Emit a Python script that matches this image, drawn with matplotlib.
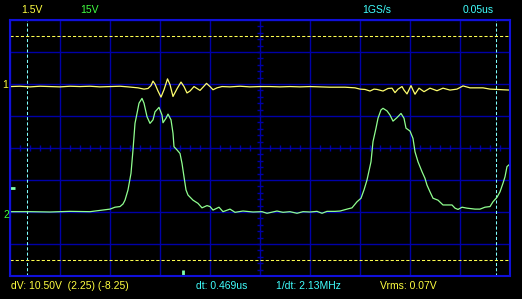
import numpy as np
import matplotlib
matplotlib.use('Agg')
import matplotlib.pyplot as plt

# time axis in ns (0.05 us / div), vertical values in screen divisions
ch1_t = [0, 10, 20, 30, 40, 50, 60, 70, 80, 90, 100, 110, 118, 128, 134, 138, 141, 143,
         145, 148, 151, 154, 157.5, 160, 163, 167, 171, 174, 177, 180, 184, 187, 190,
         193, 196.5, 200, 203, 207, 212, 220, 230, 240, 250, 260, 270, 280, 290, 300, 310,
         320, 335, 345, 350, 355, 360, 364, 367, 373, 378, 382, 385, 388, 392, 394, 397,
         401, 403, 405, 409, 414, 420, 427, 433, 440, 447, 453, 460, 467, 473, 480, 487,
         493, 500]
ch1_div = [1.92, 1.93, 1.91, 1.93, 1.92, 1.91, 1.93, 1.92, 1.93, 1.91, 1.92, 1.93, 1.91,
           1.88, 1.84, 1.86, 1.95, 2.09, 2.00, 1.78, 1.59, 1.82, 2.16, 1.98, 1.61,
           1.85, 2.06, 1.92, 1.72, 1.78, 1.92, 1.86, 1.80, 1.90, 2.02, 1.92, 1.82, 1.88,
           1.92, 1.91, 1.93, 1.91, 1.92, 1.92, 1.91, 1.92, 1.91, 1.92, 1.91, 1.90, 1.90,
           1.88, 1.84, 1.83, 1.78, 1.84, 1.83, 1.78, 1.86, 1.87, 1.73, 1.84, 1.92, 1.81,
           1.69, 1.95, 1.81, 1.68, 1.87, 1.76, 1.87, 1.79, 1.87, 1.81, 1.84, 1.94, 1.88,
           1.88, 1.88, 1.84, 1.83, 1.82, 1.81]

ch2_t = [0, 20, 40, 60, 80, 90, 100, 105, 110, 113, 115, 118, 121, 123, 125, 127, 129,
         132, 134, 137, 140, 143, 145, 149, 152, 153, 156, 158, 161, 163, 164, 167, 170,
         172, 174, 176, 178, 183, 188, 192, 197, 200, 203, 209, 213, 220, 225, 233, 243,
         252, 257, 267, 273, 280, 287, 293, 300, 307, 312, 317, 325, 330, 337, 342, 347,
         351, 354, 357, 361, 363, 366, 368, 371, 373, 377, 380, 383, 387, 391, 394, 396,
         400, 403, 405, 408, 412, 415, 417, 420, 423, 428, 433, 442, 445, 448, 452, 457,
         465, 470, 475, 480, 483, 487, 490, 493, 495, 497, 500]
ch2_div = [-1.99, -1.99, -2.00, -1.98, -1.99, -1.95, -1.91, -1.85, -1.83, -1.75, -1.63,
           -1.31, -0.79, -0.06, 0.77, 1.08, 1.40, 1.55, 1.40, 0.98, 0.77, 0.88, 1.13, 1.27,
           1.03, 0.79, 0.93, 1.06, 0.88, 0.46, 0.04, -0.06, -0.17, -0.48, -0.90, -1.31,
           -1.47, -1.63, -1.73, -1.87, -1.80, -1.83, -1.94, -1.85, -1.99, -1.91, -2.01,
           -1.97, -2.00, -1.99, -2.04, -1.97, -2.01, -1.99, -2.04, -1.99, -2.00, -1.98,
           -2.04, -1.98, -1.98, -1.97, -1.91, -1.87, -1.68, -1.57, -1.31, -1.00, -0.43,
           0.20, 0.62, 0.93, 1.19, 1.24, 1.16, 1.03, 0.84, 0.95, 1.08, 0.93, 0.62, 0.53,
           0.30, -0.12, -0.43, -0.74, -0.95, -1.16, -1.37, -1.57, -1.63, -1.78, -1.78,
           -1.88, -1.92, -1.85, -1.88, -1.91, -1.91, -1.85, -1.83, -1.68, -1.54, -1.37,
           -1.10, -0.90, -0.58, -0.50]

cursor_t = [16.5, 485.5]
cursor_v = [3.5, -3.5]

W, H = 522, 299
YEL = '#ffff40'
GRN = '#40ff40'
CYN = '#40ffff'


def fx(px):
    return px / W


def fy(py):
    return 1 - py / H


fig = plt.figure(figsize=(W / 100, H / 100), dpi=100, facecolor='black')
ax = fig.add_axes([fx(10), fy(276), 500 / W, 256 / H], facecolor='black')
ax.set_xlim(0, 500)
ax.set_ylim(-4, 4)
ax.set_xticks(np.arange(0, 501, 50))
ax.set_yticks(np.arange(-4, 5))
ax.grid(True, color='#0000a8', lw=1.0)
ax.tick_params(length=0, labelbottom=False, labelleft=False)
for s in ax.spines.values():
    s.set_color('#1010d8')
    s.set_linewidth(1.5)

# centre cross ticks
ax.plot(np.arange(0, 501, 10), np.zeros(51), ls='none', marker='|',
        ms=4.5, mew=1.0, color='#0000a8')
ax.plot(np.full(41, 250), np.arange(-4, 4.01, 0.2), ls='none', marker='_',
        ms=4.5, mew=1.0, color='#0000a8')

# cursors
for t in cursor_t:
    ax.axvline(t, color='#80ffff', lw=0.75, ls=(0, (3, 2)))
for v in cursor_v:
    ax.axhline(v, color='#ffff50', lw=0.75, ls=(0, (3, 2)))

ax.plot(ch1_t, ch1_div, color='#ffff70', lw=0.9)
ax.plot(ch2_t, ch2_div, color='#90ff90', lw=0.9)

# markers
ax.plot([0, 5], [-1.24, -1.24], color='#80ffb0', lw=2, clip_on=False,
        solid_capstyle='butt')
ax.plot([172.7, 172.7], [-3.81, -4.0], color='#80ffb0', lw=2, clip_on=False,
        solid_capstyle='butt')

fs = 7.5
font = 'Liberation Sans'
fig.text(fx(21), fy(10), '1.5V', color=YEL, fontsize=fs, family=font, va='center')
fig.text(fx(80.5), fy(10), '15V', color=GRN, fontsize=fs, family=font, va='center')
fig.text(fx(362.5), fy(10), '1GS/s', color=CYN, fontsize=fs, family=font, va='center')
fig.text(fx(462.5), fy(10), '0.05us', color=CYN, fontsize=fs, family=font, va='center')
fig.text(fx(2), fy(85.5), '1', color=YEL, fontsize=fs, family=font, va='center')
fig.text(fx(3), fy(215), '2', color=GRN, fontsize=fs, family=font, va='center')

fig.text(fx(11), fy(286), 'dV: 10.50V  (2.25) (-8.25)', color=YEL, fontsize=fs,
         family=font, va='center')
fig.text(fx(196), fy(286), 'dt: 0.469us', color=CYN, fontsize=fs, family=font, va='center')
fig.text(fx(275.5), fy(286), '1/dt: 2.13MHz', color=CYN, fontsize=fs, family=font,
         va='center')
fig.text(fx(380), fy(286), 'Vrms: 0.07V', color=YEL, fontsize=fs, family=font, va='center')

fig.savefig('out.png', dpi=100, facecolor='black')
